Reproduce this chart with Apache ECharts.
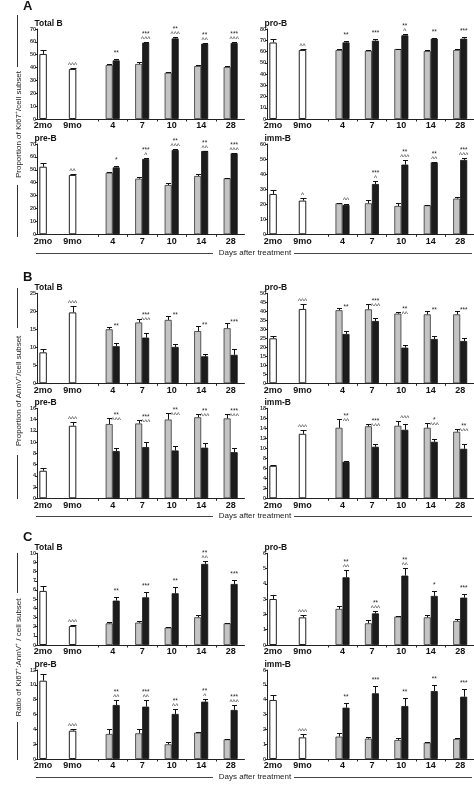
<!DOCTYPE html>
<html><head><meta charset="utf-8">
<script src="https://cdn.jsdelivr.net/npm/echarts@6/dist/echarts.min.js"></script>
<style>html,body{margin:0;padding:0;background:#fff}#c{width:474px;height:790px}</style>
</head><body><div id="c"></div>
<script>
// ---------- DATA ----------
const categories = ['2mo','9mo','4','7','10','14','28'];
const subsetTitles = ['Total B','pro-B','pre-B','imm-B'];

// A: Proportion of Ki67+ / cell subset
const A1_white=[50.6,38.9], A1_whiteErr=[3.0,1.0];
const A1_gray=[42.0,42.8,36.0,41.2,40.4], A1_grayErr=[0.5,1.2,0.8,0.8,0.8];
const A1_black=[45.6,59.4,62.7,58.6,59.1], A1_blackErr=[1.2,0.5,1.3,0.5,0.5];
const A1_stars=['','','**','***','**','**','***'], A1_carets=['','^^^','','^^^','^^^','^^','^^^'];

const A2_white=[68.0,61.3], A2_whiteErr=[2.7,1.2];
const A2_gray=[61.3,60.7,62.2,60.4,61.3], A2_grayErr=[0.6,0.9,0.3,0.6,1.2];
const A2_black=[68.1,69.6,74.4,71.4,71.4], A2_blackErr=[1.5,1.2,1.2,0.6,1.5];
const A2_stars=['','','**','***','**','**','***'], A2_carets=['','^^','','','^','',''];

const A3_white=[52.4,46.0], A3_whiteErr=[2.6,1.0];
const A3_gray=[47.8,43.1,38.2,45.2,43.4], A3_grayErr=[0.5,1.3,1.8,1.3,0.5];
const A3_black=[51.9,58.4,65.4,64.6,62.8], A3_blackErr=[1.3,0.5,0.8,0.3,0.5];
const A3_stars=['','','*','***','**','**','***'], A3_carets=['','^^','','^','^^^','^^','^^^'];

const A4_white=[26.8,22.4], A4_whiteErr=[2.6,1.5];
const A4_gray=[20.6,20.6,18.8,19.3,23.7], A4_grayErr=[0.4,2.0,2.2,0.4,1.1];
const A4_black=[19.5,33.4,46.3,47.8,49.4], A4_blackErr=[0.6,2.2,3.3,0.5,1.3];
const A4_stars=['','','','***','**','**','***'], A4_carets=['','^','^^','^','^^^','^^','^^^'];

// B: Proportion of AnnV+ / cell subset
const B1_white=[8.6,19.7], B1_whiteErr=[0.8,1.9];
const B1_gray=[15.0,16.9,17.6,14.5,15.3], B1_grayErr=[0.6,1.1,1.2,1.5,1.4];
const B1_black=[10.3,12.7,10.1,7.5,7.9], B1_blackErr=[0.8,1.2,0.9,0.6,1.5];
const B1_stars=['','','**','***','**','**','***'], B1_carets=['','^^^','','^^^','','',''];

const B2_white=[25.0,41.3], B2_whiteErr=[1.3,2.6];
const B2_gray=[40.6,41.1,38.7,38.3,38.3], B2_grayErr=[1.4,2.8,1.1,1.9,1.9];
const B2_black=[27.4,34.6,19.8,24.6,23.5], B2_blackErr=[1.6,1.9,1.7,1.9,1.7];
const B2_stars=['','','**','***','**','**','***'], B2_carets=['','^^^','','^^^','^^','',''];

const B3_white=[4.9,12.9], B3_whiteErr=[0.4,0.7];
const B3_gray=[13.2,13.3,14.0,14.4,14.2], B3_grayErr=[1.1,0.7,1.2,0.6,0.8];
const B3_black=[8.4,9.1,8.5,9.0,8.2], B3_blackErr=[0.5,0.9,0.8,0.8,0.8];
const B3_stars=['','','**','***','**','**','***'], B3_carets=['','^^^','^^^','^^^','^^^','^^^','^^^'];

const B4_white=[6.5,12.9], B4_whiteErr=[0.1,0.8];
const B4_gray=[14.1,14.4,14.5,14.1,13.3], B4_grayErr=[1.7,0.5,0.9,1.0,0.6];
const B4_black=[7.3,10.3,13.7,11.3,9.9], B4_blackErr=[0.2,0.6,1.1,0.5,1.0];
const B4_stars=['','','**','***','','*','**'], B4_carets=['','^^^','^^','^^^','^^^','^^^','^^^'];

// C: Ratio of Ki67+:AnnV+ / cell subset
const C1_white=[5.9,2.07], C1_whiteErr=[0.5,0.1];
const C1_gray=[2.36,2.44,1.9,3.02,2.36], C1_grayErr=[0.2,0.22,0.1,0.25,0.05];
const C1_black=[4.84,5.2,5.64,8.84,6.65], C1_blackErr=[0.36,0.6,0.72,0.36,0.45];
const C1_stars=['','','**','***','**','**','***'], C1_carets=['','^^^','','','','^^',''];

const C2_white=[3.01,1.81], C2_whiteErr=[0.24,0.15];
const C2_gray=[2.36,1.42,1.86,1.81,1.57], C2_grayErr=[0.2,0.22,0.02,0.15,0.11];
const C2_black=[4.43,2.07,4.54,3.21,3.1], C2_blackErr=[0.48,0.17,0.48,0.35,0.24];
const C2_stars=['','','**','**','**','*','***'], C2_carets=['','^^^','^^','^^^','^^','',''];

const C3_white=[10.56,3.82], C3_whiteErr=[0.9,0.22];
const C3_gray=[3.37,3.46,1.98,3.55,2.65], C3_grayErr=[0.63,0.54,0.31,0.14,0.05];
const C3_black=[7.28,7.06,6.07,7.73,6.61], C3_blackErr=[0.68,0.9,0.72,0.31,0.63];
const C3_stars=['','','**','***','**','**','***'], C3_carets=['','^^^','^^','^^','^^','^','^^^'];

const C4_white=[3.98,1.46], C4_whiteErr=[0.31,0.22];
const C4_gray=[1.51,1.37,1.28,1.1,1.35], C4_grayErr=[0.22,0.13,0.16,0.05,0.07];
const C4_black=[3.46,4.43,3.57,4.58,4.2], C4_blackErr=[0.34,0.49,0.52,0.38,0.49];
const C4_stars=['','','**','***','**','**','***'], C4_carets=['','^^^','','','','',''];

// y-axis ticks (max, step) per panel
const yMax  = [70,80,70,60, 25,50,16,18, 10,6,12,6];
const yStep = [10,10,10,10,  5, 5, 2, 2,  1,1, 2,1];

const sectionLetters = ['A','B','C'];
const sectionYTitles = ['Proportion of Ki67\u207A/cell subset','Proportion of AnnV\u207A/cell subset','Ratio of Ki67\u207A:AnnV\u207A / cell subset'];
const xTitle = 'Days after treatment';

// ---------- BUILD ----------
const panels = [
 [A1_white,A1_whiteErr,A1_gray,A1_grayErr,A1_black,A1_blackErr,A1_stars,A1_carets],
 [A2_white,A2_whiteErr,A2_gray,A2_grayErr,A2_black,A2_blackErr,A2_stars,A2_carets],
 [A3_white,A3_whiteErr,A3_gray,A3_grayErr,A3_black,A3_blackErr,A3_stars,A3_carets],
 [A4_white,A4_whiteErr,A4_gray,A4_grayErr,A4_black,A4_blackErr,A4_stars,A4_carets],
 [B1_white,B1_whiteErr,B1_gray,B1_grayErr,B1_black,B1_blackErr,B1_stars,B1_carets],
 [B2_white,B2_whiteErr,B2_gray,B2_grayErr,B2_black,B2_blackErr,B2_stars,B2_carets],
 [B3_white,B3_whiteErr,B3_gray,B3_grayErr,B3_black,B3_blackErr,B3_stars,B3_carets],
 [B4_white,B4_whiteErr,B4_gray,B4_grayErr,B4_black,B4_blackErr,B4_stars,B4_carets],
 [C1_white,C1_whiteErr,C1_gray,C1_grayErr,C1_black,C1_blackErr,C1_stars,C1_carets],
 [C2_white,C2_whiteErr,C2_gray,C2_grayErr,C2_black,C2_blackErr,C2_stars,C2_carets],
 [C3_white,C3_whiteErr,C3_gray,C3_grayErr,C3_black,C3_blackErr,C3_stars,C3_carets],
 [C4_white,C4_whiteErr,C4_gray,C4_grayErr,C4_black,C4_blackErr,C4_stars,C4_carets]
].map(a=>({white:a[0],whiteErr:a[1],gray:a[2],grayErr:a[3],black:a[4],blackErr:a[5],stars:a[6],carets:a[7]}));

const FONT = '"Liberation Sans", Arial, sans-serif';
const GAP = 0.36;                       // extra space between controls and treatment groups
const pos = categories.map((c,i)=> i<2 ? i : i+GAP);
const treatPos = pos.slice(2);
const tickPos = treatPos.map(x=>x-0.5);
const X_MIN=-0.19, X_MAX=6.83, GRID_W=207;
const colLeft=[37.5,267.5];
const rowBox=[[29,90],[144,90.3],[293.3,90],[408.3,90],[553.3,91.7],[670,89]];
const BW=7;

function labelAt(v){ for(let i=0;i<pos.length;i++){ if(Math.abs(pos[i]-v)<1e-6) return categories[i]; } return ''; }

function renderErr(params, api){
  const kind = api.value(3);
  const p0 = api.coord([api.value(0), api.value(1)]);
  const p1 = api.coord([api.value(0), api.value(1)+api.value(2)]);
  const cx = Math.round(p0[0] + kind*BW/2) + 0.5;
  const hw = kind===0 ? 3 : 2.5;
  const yt = Math.round(p1[1])+0.5;
  return {type:'group', children:[
    {type:'line', shape:{x1:cx,y1:p0[1],x2:cx,y2:yt}, style:{stroke:'#111',lineWidth:1}},
    {type:'line', shape:{x1:cx-hw,y1:yt,x2:cx+hw,y2:yt}, style:{stroke:'#111',lineWidth:1}}
  ]};
}
function makeAnnRender(p){
  return function(params, api){
    const ci = api.value(3);
    const pb = api.coord([api.value(0), api.value(1)]);
    const pg = api.coord([api.value(0), api.value(2)]);
    const x = pb[0] + (ci<2 ? 0 : BW/2);
    let a = Math.min(pb[1], pg[1]);
    if (pb[1]-pg[1] > 8) a += 5;
    const st = p.stars[ci], ca = p.carets[ci];
    const ch = [];
    const mk = (t,y)=>({type:'text', x:x, y:y, style:{text:t, fill:'#222', fontSize:6.5, fontFamily:FONT, align:'center', verticalAlign:'top'}});
    if (ca) ch.push(mk(ca, a-6.3));
    if (st) ch.push(mk(st, ca ? a-11.3 : a-9.3));
    return {type:'group', children:ch};
  };
}

const grid=[], xAxis=[], yAxis=[], series=[], graphic=[];
panels.forEach((p,k)=>{
  const L = colLeft[k%2];
  const [T,H] = rowBox[Math.floor(k/2)];
  grid.push({left:L, top:T, width:GRID_W, height:H});
  xAxis.push({type:'value', gridIndex:k, min:X_MIN, max:X_MAX,
    axisLine:{show:true, onZero:false, lineStyle:{color:'#222', width:1}},
    splitLine:{show:false},
    axisTick:{show:true, customValues:tickPos, length:2.5, lineStyle:{color:'#222'}},
    axisLabel:{show:true, customValues:pos, formatter:labelAt, fontSize:9, fontWeight:'bold', color:'#111', margin:2.5, fontFamily:FONT}});
  xAxis.push({type:'value', gridIndex:k, min:X_MIN, max:X_MAX, show:false});
  yAxis.push({type:'value', gridIndex:k, min:0, max:yMax[k], interval:yStep[k],
    axisLine:{show:true, onZero:false, lineStyle:{color:'#222', width:1}},
    axisTick:{show:true, length:2.5, lineStyle:{color:'#222'}},
    splitLine:{show:false},
    axisLabel:{fontSize:5.5, fontWeight:'bold', color:'#333', margin:1.5, fontFamily:FONT}});
  series.push({type:'bar', xAxisIndex:2*k, yAxisIndex:k, barWidth:BW, barGap:'0%', silent:true,
    data:treatPos.map((x,i)=>[x,p.gray[i]]), itemStyle:{color:'#c4c4c4', borderColor:'#333', borderWidth:0.8}});
  series.push({type:'bar', xAxisIndex:2*k, yAxisIndex:k, barWidth:BW, barGap:'0%', silent:true,
    data:treatPos.map((x,i)=>[x,p.black[i]]), itemStyle:{color:'#1c1c1c', borderColor:'#111', borderWidth:0.8}});
  series.push({type:'bar', xAxisIndex:2*k+1, yAxisIndex:k, barWidth:7.5, silent:true,
    data:p.white.map((v,i)=>[pos[i],v]), itemStyle:{color:'#ffffff', borderColor:'#222', borderWidth:1}});
  const errData=[];
  p.white.forEach((v,i)=>errData.push([pos[i],v,p.whiteErr[i],0]));
  p.gray.forEach((v,i)=>errData.push([treatPos[i],v,p.grayErr[i],-1]));
  p.black.forEach((v,i)=>errData.push([treatPos[i],v,p.blackErr[i],1]));
  series.push({type:'custom', xAxisIndex:2*k, yAxisIndex:k, data:errData, renderItem:renderErr, z:5, silent:true, clip:false});
  const annData=[];
  categories.forEach((c,i)=>{
    if(!p.stars[i] && !p.carets[i]) return;
    if(i<2){ const t=p.white[i]+p.whiteErr[i]; annData.push([pos[i],t,t,i]); }
    else annData.push([pos[i], p.black[i-2]+p.blackErr[i-2], p.gray[i-2]+p.grayErr[i-2], i]);
  });
  series.push({type:'custom', xAxisIndex:2*k, yAxisIndex:k, data:annData, renderItem:makeAnnRender(p), z:6, silent:true, clip:false});
  // panel title
  graphic.push({type:'text', x:L-3, y:T-10, style:{text:subsetTitles[Math.floor(k/2)%2*2 + k%2], fill:'#111', fontSize:8.5, fontWeight:'bold', fontFamily:FONT, align:'left', verticalAlign:'top'}});
});

// section decorations
const secLetterY=[0,271,531];
const yTitleBox=[[15,67,124.5,185,237],[288,328,391,455,499],[553,593,657.5,722,760]];
const daysY=[252.5,516,776.7];
for(let s=0;s<3;s++){
  graphic.push({type:'text', x:23, y:secLetterY[s], style:{text:sectionLetters[s], fill:'#111', fontSize:13, fontWeight:'bold', fontFamily:FONT, verticalAlign:'top'}});
  const b=yTitleBox[s];
  graphic.push({type:'line', shape:{x1:17.5,y1:b[0],x2:17.5,y2:b[1]}, style:{stroke:'#333',lineWidth:1}});
  graphic.push({type:'line', shape:{x1:17.5,y1:b[3],x2:17.5,y2:b[4]}, style:{stroke:'#333',lineWidth:1}});
  graphic.push({type:'text', x:19, y:b[2], rotation:Math.PI/2, style:{text:sectionYTitles[s], fill:'#222', fontSize:8, fontFamily:FONT, align:'center', verticalAlign:'middle'}});
  const dy=Math.round(daysY[s])+0.5;
  graphic.push({type:'line', shape:{x1:36,y1:dy,x2:213,y2:dy}, style:{stroke:'#444',lineWidth:1}});
  graphic.push({type:'line', shape:{x1:294,y1:dy,x2:472,y2:dy}, style:{stroke:'#444',lineWidth:1}});
  graphic.push({type:'text', x:255, y:daysY[s], style:{text:xTitle, fill:'#222', fontSize:8, fontFamily:FONT, align:'center', verticalAlign:'middle'}});
}

const chart = echarts.init(document.getElementById('c'), null, {renderer:'canvas'});
chart.setOption({animation:false, backgroundColor:'#fff', grid, xAxis, yAxis, series, graphic});
</script></body></html>
